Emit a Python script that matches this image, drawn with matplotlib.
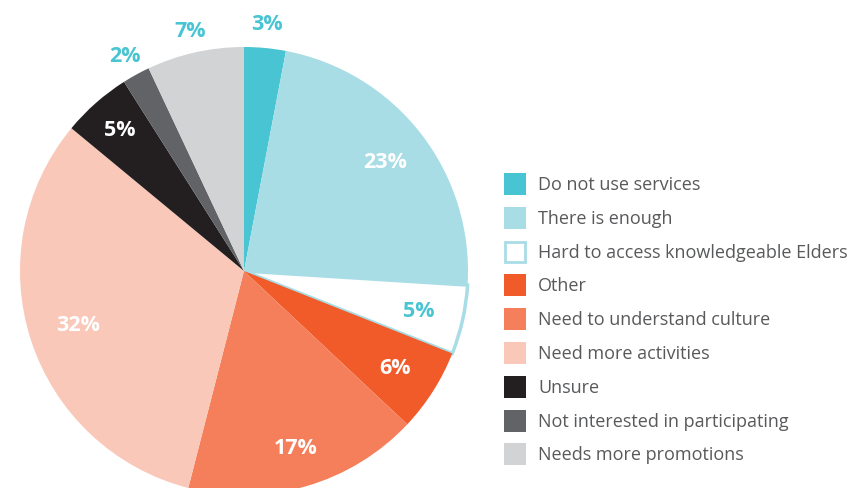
import matplotlib
matplotlib.use("Agg")
import matplotlib.pyplot as plt
from matplotlib.patches import Rectangle
import numpy as np

categories = ["Do not use services", "There is enough", "Hard to access knowledgeable Elders",
              "Other", "Need to understand culture", "Need more activities", "Unsure",
              "Not interested in participating", "Needs more promotions"]
values = [3, 23, 5, 6, 17, 32, 5, 2, 7]
colors = ["#48c4d3", "#a8dde6", "#ffffff", "#f15a29", "#f47f5a", "#f9c8b8",
          "#231f20", "#626366", "#d1d3d4"]
label_colors = ["#48c4d3", "#ffffff", "#48c4d3", "#ffffff", "#ffffff", "#ffffff",
                "#ffffff", "#48c4d3", "#48c4d3"]
label_dist = [1.11, 0.80, 0.80, 0.80, 0.82, 0.78, 0.84, 1.10, 1.10]

plt.rcParams['font.family'] = ['Open Sans', 'DejaVu Sans']
W, H = 851, 489
fig = plt.figure(figsize=(W / 100, H / 100), dpi=100)
ax = fig.add_axes([0, 0, 1, 1])

cx, cy, R = 244, H - 272, 224
wedges, _ = ax.pie(values, colors=colors, startangle=90, counterclock=False,
                   center=(cx, cy), radius=R, frame=True,
                   wedgeprops=dict(linewidth=0))
ax.set_xlim(0, W)
ax.set_ylim(0, H)
ax.set_aspect('equal')
ax.axis('off')
# outline of the white slice
wedges[2].set_edgecolor("#a8dde6")
wedges[2].set_linewidth(2.5)

total = sum(values)
cum = 0
for v, lc, d in zip(values, label_colors, label_dist):
    mid = (cum + v / 2) / total * 360
    cum += v
    ang = np.deg2rad(90 - mid)
    x = cx + d * R * np.cos(ang)
    y = cy + d * R * np.sin(ang)
    ax.text(x, y, f"{v}%", color=lc, fontsize=15.5, fontweight='bold',
            ha='center', va='center')

# legend
y0 = H - 185
step = 33.8
for i, (lab, col) in enumerate(zip(categories, colors)):
    yy = y0 - i * step
    if col == "#ffffff":
        ax.add_patch(Rectangle((505, yy - 10), 20, 20, facecolor=col,
                               edgecolor="#a8dde6", linewidth=2))
    else:
        ax.add_patch(Rectangle((504, yy - 11), 22, 22, facecolor=col, linewidth=0))
    ax.text(538, yy, lab, color="#58595b", fontsize=13, ha='left', va='center')

fig.savefig("out.png", dpi=100)
